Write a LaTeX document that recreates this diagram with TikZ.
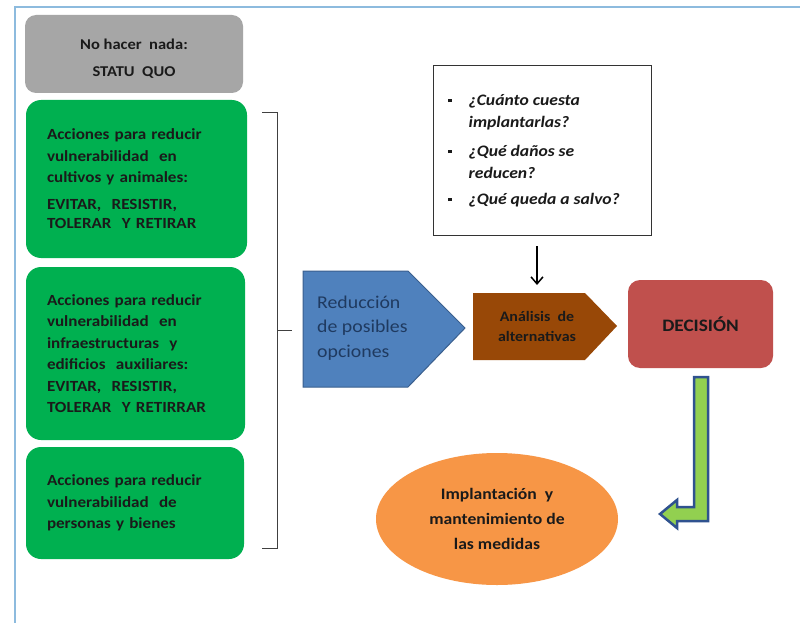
\documentclass[tikz,border=0pt]{standalone}
\usepackage{fontspec}
\setmainfont{Carlito}[FakeStretch=1.1]
\usetikzlibrary{arrows.meta,shapes.geometric}
\definecolor{frameblue}{HTML}{8DBBDE}
\definecolor{boxgray}{HTML}{A6A6A6}
\definecolor{boxgreen}{HTML}{00B050}
\definecolor{shapeblue}{HTML}{4F81BD}
\definecolor{borderblue}{HTML}{3A5F8E}
\definecolor{textblue}{HTML}{1F3A60}
\definecolor{shapebrown}{HTML}{984807}
\definecolor{shapered}{HTML}{C0504D}
\definecolor{shapeorange}{HTML}{F79646}
\definecolor{arrowgreen}{HTML}{92D050}
\definecolor{arrowborder}{HTML}{2F528F}
\definecolor{darktext}{HTML}{1A1A1A}
\begin{document}
\begin{tikzpicture}[x=1pt,y=-1pt,
  txt/.style={font=\fontsize{15.5}{21.5}\selectfont\bfseries, text=darktext},
  graybox/.style={fill=boxgray, rounded corners=11pt, align=center, txt},
  gbox/.style={fill=boxgreen, rounded corners=15pt, inner xsep=21pt, align=left, txt},
]
\useasboundingbox (0,0) rectangle (800,623);
\fill[white] (0,0) rectangle (800,623);
\draw[frameblue, line width=1.8pt] (15,623) -- (15,7) -- (800,7);

% left column
\node[graybox, minimum width=218, minimum height=78] (sq) at (134,54) {};
\node[txt, align=center, inner sep=0, anchor=base, font=\fontsize{15}{27}\selectfont\bfseries] (sqt) at (134,77)
  {No hacer\ \ nada:\\STATU\ \ QUO};
\node[gbox, minimum width=221, minimum height=158, text width=179] (g1) at (136.5,179)
  {Acciones para reducir\\ vulnerabilidad\ \ en\\ cultivos y animales:\\[5pt] EVITAR,\ \ RESISTIR,\\[-2pt] TOLERAR\ \ Y RETIRAR};
\node[gbox, minimum width=219, minimum height=173, text width=177] (g2) at (135.5,353.5)
  {Acciones para reducir\\ vulnerabilidad\ \ en\\ infraestructuras\ \ y\\ edificios\ \ auxiliares:\\ EVITAR,\ \ RESISTIR,\\ TOLERAR\ \ Y RETIRRAR};
\node[gbox, minimum width=218, minimum height=112, text width=176] (g3) at (135,503)
  {Acciones para reducir\\ vulnerabilidad\ \ de\\ personas y bienes};

% bracket
\coordinate (bt) at (262,113);
\coordinate (bb) at (262,548);
\coordinate (bm) at (292,330);
\draw[black!75, line width=1pt] (bt) -- (277,113) -- (277,548) -- (bb);
\draw[black!75, line width=1pt] (277,330) -- (bm);

% blue pentagon
\fill[shapeblue, draw=borderblue, line width=1pt] (303,271) -- (408,271) -- (465,328) -- (408,387) -- (303,387) -- cycle;
\node[anchor=west, align=left, font=\fontsize{18}{24.5}\selectfont, text=textblue, inner sep=0] (red) at (317,328)
  {Reducción\\de posibles\\opciones};

% brown pentagon
\fill[shapebrown] (473,293) -- (585,293) -- (617,326) -- (585,360) -- (473,360) -- cycle;
\node[align=center, txt, font=\fontsize{14.5}{20}\selectfont\bfseries, inner sep=0] (ana) at (537,326)
  {Análisis\ \ de\\ alternativas};

% decision
\node[fill=shapered, rounded corners=12pt, minimum width=145, minimum height=88, txt, font=\fontsize{17.5}{20}\selectfont\bfseries] (dec) at (700.5,324) {DECISIÓN};

% question box
\node[draw=black!80, line width=1pt, fill=white, minimum width=218, minimum height=169] (q) at (542,150.5) {};
\node[anchor=north west, inner sep=0, font=\fontsize{16}{22}\selectfont\bfseries\itshape, text=darktext] (qt) at (448,90)
  {\begin{tabular}{@{}l@{\hspace{17pt}}l@{}}
   \raisebox{3.5pt}{\rule{3.5pt}{3.5pt}} & ¿Cuánto cuesta\\
    & implantarlas?\\[7pt]
   \raisebox{3.5pt}{\rule{3.5pt}{3.5pt}} & ¿Qué daños se\\
    & reducen?\\[4pt]
   \raisebox{3.5pt}{\rule{3.5pt}{3.5pt}} & ¿Qué queda a salvo?
   \end{tabular}};
\coordinate (aTop) at (537,246);
\coordinate (aBot) at (537,285);
\draw[line width=1.5pt, -{Straight Barb[length=7pt,width=12pt,line width=1.5pt]}] (aTop) -- (aBot);

% green bent arrow
\fill[arrowgreen, draw=arrowborder, line width=2.5pt, line join=miter]
  (694,377) -- (708,377) -- (708,521) -- (677,521) -- (677,528) -- (660,514) -- (677,500) -- (677,507) -- (694,507) -- cycle;

% ellipse
\node[ellipse, fill=shapeorange, minimum width=242, minimum height=132, align=center, inner sep=0,
      font=\fontsize{16}{25}\selectfont\bfseries, text=darktext] (imp) at (497,519)
  {Implantación\ \ y\\ mantenimiento de\\ las medidas};
\end{tikzpicture}
\end{document}
